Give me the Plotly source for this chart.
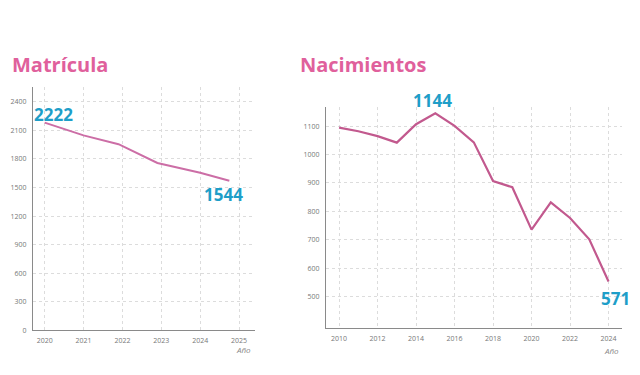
import plotly.graph_objects as go

# Matrícula
mat_years = [2020.0, 2021.0, 2021.9, 2022.9, 2024.0, 2024.75]
mat_values = [2182, 2048, 1955, 1758, 1655, 1572]
mat_ticks_x = [2020, 2021, 2022, 2023, 2024, 2025]
mat_ticks_y = [0, 300, 600, 900, 1200, 1500, 1800, 2100, 2400]

# Nacimientos
nac_years = [2010, 2011, 2012, 2013, 2014, 2015, 2016, 2017, 2018, 2019, 2020, 2021, 2022, 2023, 2024]
nac_values = [1095, 1082, 1065, 1042, 1107, 1145, 1101, 1043, 907, 885, 736, 832, 777, 702, 553]
nac_ticks_x = [2010, 2012, 2014, 2016, 2018, 2020, 2022, 2024]
nac_ticks_y = [500, 600, 700, 800, 900, 1000, 1100]

PINK_TITLE = "#e0609c"
CYAN = "#1e9ec8"
NUMFONT = "Open Sans"
TICK = dict(family="Open Sans", size=7, color="#777777")

fig = go.Figure()
fig.add_trace(go.Scatter(x=mat_years, y=mat_values, mode="lines",
                         line=dict(color="#cc6ea6", width=2), xaxis="x", yaxis="y",
                         hoverinfo="skip", showlegend=False))
fig.add_trace(go.Scatter(x=nac_years, y=nac_values, mode="lines",
                         line=dict(color="#c2598e", width=2.2), xaxis="x2", yaxis="y2",
                         hoverinfo="skip", showlegend=False))

axis_common = dict(showgrid=True, gridcolor="#dcdcdc", griddash="dot", gridwidth=1,
                   zeroline=False, showline=True, linecolor="#8a8a8a", linewidth=1,
                   tickfont=TICK, ticks="", fixedrange=True)

fig.update_layout(
    width=640, height=375,
    margin=dict(l=0, r=0, t=0, b=0),
    paper_bgcolor="white", plot_bgcolor="white",
    xaxis=dict(domain=[33/640, 255/640], range=[2019.7, 2025.41], tickvals=mat_ticks_x,
               anchor="y", ticklabelstandoff=3, **axis_common),
    yaxis=dict(domain=[1-334/375, 1-88/375], range=[0, 2555], tickvals=mat_ticks_y,
               anchor="x", ticklabelstandoff=4, **axis_common),
    xaxis2=dict(domain=[326/640, 622/640], range=[2009.32, 2024.7], tickvals=nac_ticks_x,
                anchor="y2", ticklabelstandoff=3, **axis_common),
    yaxis2=dict(domain=[1-332/375, 1-108/375], range=[388, 1168], tickvals=nac_ticks_y,
                anchor="x2", ticklabelstandoff=4, **axis_common),
)

ann = []
ann.append(dict(text="<b>Matrícula</b>", xref="paper", yref="paper", x=10/640, y=1-65/375,
                xanchor="left", yanchor="middle", showarrow=False,
                font=dict(family="Open Sans", size=20, color=PINK_TITLE)))
ann.append(dict(text="<b>Nacimientos</b>", xref="paper", yref="paper", x=298/640, y=1-65/375,
                xanchor="left", yanchor="middle", showarrow=False,
                font=dict(family="Open Sans", size=20, color=PINK_TITLE)))
ann.append(dict(text="<b>2222</b>", xref="x", yref="y", x=2020.23, y=2265,
                xanchor="center", yanchor="middle", showarrow=False,
                font=dict(family=NUMFONT, size=17, color=CYAN)))
ann.append(dict(text="<b>1544</b>", xref="x", yref="y", x=2024.61, y=1427,
                xanchor="center", yanchor="middle", showarrow=False,
                font=dict(family=NUMFONT, size=17, color=CYAN)))
ann.append(dict(text="<b>1144</b>", xref="x2", yref="paper", x=2014.84, y=1-102/375,
                xanchor="center", yanchor="middle", showarrow=False,
                font=dict(family=NUMFONT, size=17, color=CYAN)))
ann.append(dict(text="<b>571</b>", xref="x2", yref="y2", x=2024.36, y=493,
                xanchor="center", yanchor="middle", showarrow=False,
                font=dict(family=NUMFONT, size=17, color=CYAN)))
ann.append(dict(text="<i>Año</i>", xref="paper", yref="paper", x=243/640, y=1-353/375,
                xanchor="center", yanchor="middle", showarrow=False,
                font=dict(family="Open Sans", size=8, color="#888888")))
ann.append(dict(text="<i>Año</i>", xref="paper", yref="paper", x=611/640, y=1-354/375,
                xanchor="center", yanchor="middle", showarrow=False,
                font=dict(family="Open Sans", size=8, color="#888888")))
fig.update_layout(annotations=ann)

fig.write_html("out.html", config={"displayModeBar": False},
               post_script="document.body.style.margin='0';document.body.style.padding='0';")
